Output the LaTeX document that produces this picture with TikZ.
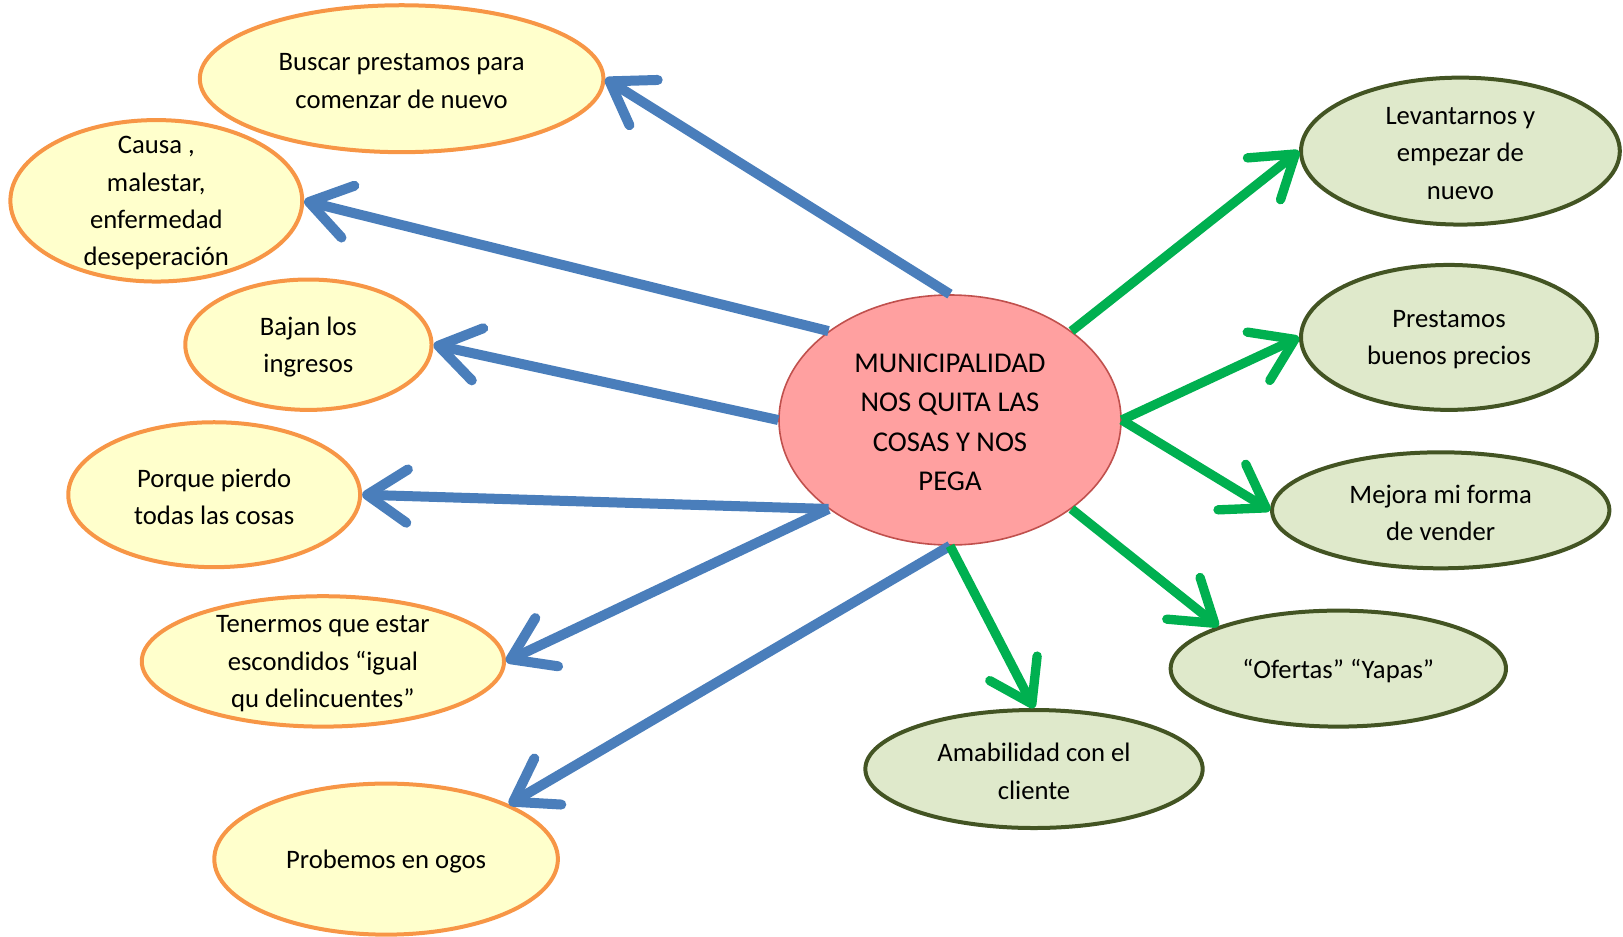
\documentclass[tikz,border=0pt]{standalone}
\usepackage{fontspec}
\setmainfont{Carlito}
\usetikzlibrary{shapes.geometric,arrows.meta}
\definecolor{centerfill}{RGB}{255,160,160}
\definecolor{centerline}{RGB}{192,80,77}
\definecolor{causefill}{RGB}{255,255,204}
\definecolor{causeline}{RGB}{247,150,70}
\definecolor{fixfill}{RGB}{223,233,203}
\definecolor{fixline}{RGB}{67,84,35}
\definecolor{arrowblue}{RGB}{74,126,187}
\definecolor{arrowgreen}{RGB}{0,176,80}
\begin{document}
\begin{tikzpicture}[x=0.75pt,y=0.75pt,yscale=-1,xscale=1,
  bub/.style={ellipse,inner sep=0pt},
  txt/.style={align=center,yshift=-1.8pt,font=\fontsize{20}{28}\selectfont},
  causebub/.style={bub,draw=causeline,fill=causefill,line width=3pt},
  fixbub/.style={bub,draw=fixline,fill=fixfill,line width=3pt},
  bluearrow/.style={draw=arrowblue,line width=7.5pt,-{Straight Barb[length=30pt,width=40pt,round]}},
  greenarrow/.style={draw=arrowgreen,line width=7pt,-{Straight Barb[length=30pt,width=40pt,round]}}]
\useasboundingbox (0,0) rectangle (1623,936);
% centre
\node [bub,draw=centerline,fill=centerfill,line width=1.2pt,minimum width=256.5pt,minimum height=187.5pt,
  label={[txt,font=\fontsize{21.5}{29.5}\selectfont]center:{MUNICIPALIDAD\\NOS QUITA LAS\\COSAS Y NOS\\PEGA}}] (muni) at (950,420) {};
% causas
\node [causebub,minimum width=302.7pt,minimum height=110.2pt,
  label={[txt]center:{Buscar prestamos para\\comenzar de nuevo}}] (buscar) at (401.6,78.7) {};
\node [causebub,minimum width=218.9pt,minimum height=121.1pt,
  label={[txt]center:{Causa ,\\malestar,\\enfermedad\\deseperación}}] (causa) at (156.3,200.8) {};
\node [causebub,minimum width=184.7pt,minimum height=97.8pt,
  label={[txt]center:{Bajan los\\ingresos}}] (bajan) at (308.4,344.7) {};
\node [causebub,minimum width=218.9pt,minimum height=108.7pt,
  label={[txt]center:{Porque pierdo\\todas las cosas}}] (porque) at (214.2,494.7) {};
\node [causebub,minimum width=271.7pt,minimum height=97.8pt,
  label={[txt]center:{Tenermos que estar\\escondidos “igual\\qu delincuentes”}}] (tenermos) at (322.9,661.4) {};
\node [causebub,minimum width=257.7pt,minimum height=113.3pt,
  label={[txt]center:{Probemos en ogos}}] (probemos) at (386.1,859.1) {};
% salidas
\node [fixbub,minimum width=239.1pt,minimum height=110.2pt,
  label={[txt]center:{Levantarnos y\\empezar de\\nuevo}}] (levantarnos) at (1460.4,151.1) {};
\node [fixbub,minimum width=222pt,minimum height=108.7pt,
  label={[txt]center:{Prestamos\\buenos precios}}] (prestamos) at (1449,337.4) {};
\node [fixbub,minimum width=253pt,minimum height=87pt,
  label={[txt]center:{Mejora mi forma\\de vender}}] (mejora) at (1440.7,510.3) {};
\node [fixbub,minimum width=251.5pt,minimum height=87pt,
  label={[txt]center:{“Ofertas” “Yapas”}}] (ofertas) at (1338.3,668.6) {};
\node [fixbub,minimum width=253pt,minimum height=88.5pt,
  label={[txt]center:{Amabilidad con el\\cliente}}] (amabilidad) at (1034,769) {};
% flechas
\draw [bluearrow] (muni.north) -- (buscar.east);
\draw [bluearrow] (muni.north west) -- (causa.east);
\draw [bluearrow] (muni.west) -- (bajan.east);
\draw [bluearrow] (muni.south west) -- (porque.east);
\draw [bluearrow] (muni.south west) -- (tenermos.east);
\draw [bluearrow] (muni.south) -- (probemos.north east);
\draw [greenarrow] (muni.north east) -- (levantarnos.west);
\draw [greenarrow] (muni.east) -- (prestamos.west);
\draw [greenarrow] (muni.east) -- (mejora.west);
\draw [greenarrow] (muni.south east) -- (ofertas.north west);
\draw [greenarrow] (muni.south) -- (amabilidad.north);
\end{tikzpicture}
\end{document}
